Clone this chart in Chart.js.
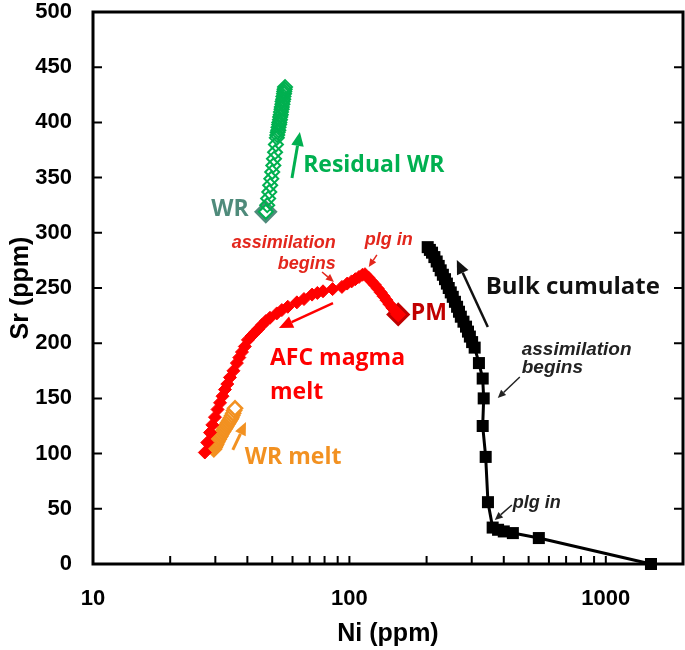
<!DOCTYPE html>
<html>
<head>
<meta charset="utf-8">
<script src="https://cdn.jsdelivr.net/npm/chart.js@4.4.1/dist/chart.umd.min.js"></script>
<style>
  html, body { margin: 0; padding: 0; background: #fff; }
</style>
</head>
<body>
<canvas id="chart" width="685" height="650"></canvas>
<script>
// Axis ticks
const X_TICKS = [10, 100, 1000];
const X_MINOR = [20, 30, 40, 50, 60, 70, 80, 90, 100, 200, 300, 400, 500, 600, 700, 800, 900, 1000];
const Y_TICKS = [0, 50, 100, 150, 200, 250, 300, 350, 400, 450, 500];

// Whole rock start point (WR)
const wrStartNi = [47.2];
const wrStartSr = [319];

// Residual WR (green open diamonds)
const residualNi = [47.2, 47.8, 48.2, 48.7, 49.1, 49.6, 50.0, 50.5, 50.8, 51.3, 51.7, 52.1,
                    52.3, 52.5, 52.8, 52.9, 53.2, 53.3, 53.6, 53.7, 54.0, 54.1, 54.4, 54.5,
                    54.8, 54.9, 55.2, 55.3, 55.6, 55.7, 55.9, 56.1];
const residualSr = [319, 325, 331, 337, 343, 349, 355, 361, 367, 373, 380, 386,
                    388.5, 391, 393, 395.5, 398, 400, 402.5, 405, 407, 409.5, 412, 414,
                    416.5, 419, 421, 423.5, 426, 428, 430, 432];

// Parent magma (PM)
const pmNi = [155];
const pmSr = [226];

// AFC magma melt (red diamonds), from PM through "plg in" down the curve
const afcNi = [155, 151, 147, 143, 139.5, 136, 132.5, 129, 125.5, 122, 118.5, 115,
               112.5, 109, 105.5, 102, 98, 93.5, 86, 78.9, 75, 71.5, 66.5, 62.4,
               57.5, 54.5, 52.1, 49, 47.2, 45.6, 44.2, 42.9, 41.5, 40.2, 39.1, 38.1,
               37.2, 36.4, 35.3, 34.2, 33.4, 32.7, 32, 31.3, 30.6, 29.9, 29.2, 28.6,
               27.9, 27.3];
const afcSr = [226, 229, 232, 235.5, 239, 242.5, 246, 249.5, 253, 256, 259.5, 262.5,
               262, 260, 258, 256, 254, 251, 249, 247, 245.5, 244, 240, 237,
               233, 230, 227, 223, 220, 216.5, 213, 210, 206.5, 203, 197, 192,
               187, 182, 175, 169, 163, 158, 152, 146, 140, 133, 126, 119,
               110, 101];

// WR melt (orange open diamonds)
const meltNi = [29.6, 29.8, 30.0, 30.2, 30.4, 30.6, 30.9, 31.1, 31.4, 31.6, 31.9, 32.2,
                32.5, 32.8, 33.1, 33.4, 33.7, 34.0, 34.3, 34.6, 34.9, 35.2, 35.5, 35.8];
const meltSr = [104, 105.5, 107, 108.5, 110, 111.5, 113, 114.5, 116, 117.5, 119, 120.5,
                122, 123.5, 125, 126.5, 128, 129.5, 131, 132.5, 134.5, 136.5, 139, 141];

// Bulk cumulate (black squares)
const bulkNi = [202, 206, 210, 214.5, 219, 223, 227, 231.5, 236, 240, 244, 248.5,
                253, 258, 263, 267.5, 272, 278.5, 285, 290, 295, 301, 308, 320,
                331, 334, 331, 340, 347, 362, 380, 400, 434, 548, 1500];
const bulkSr = [287, 284.5, 282, 278, 274, 270, 266, 262, 258, 254, 250, 246,
                242, 237.5, 233, 228.5, 224, 219.5, 215, 210.5, 206, 201, 196, 182,
                168, 150, 125, 97, 56, 33, 31, 29.5, 28, 23.5, 0];

const pts = (xs, ys) => xs.map((v, i) => ({ x: v, y: ys[i] }));

const GREEN = '#00b050';
const TEAL = '#4f8b7b';
const RED = '#ff0000';
const DARKRED = '#c00000';
const ORANGE = '#f29121';
const TXTRED = '#e3261c';

const BIG = 'bold 23px "Open Sans", sans-serif';
const BIG2 = 'bold 24px "Open Sans", sans-serif';
const SMALL = 'italic bold 18px "Liberation Sans", Arial, sans-serif';
const SMALL2 = 'italic bold 19px "Liberation Sans", Arial, sans-serif';

// Text labels, placed in data coordinates (Ni, Sr)
const notes = [
    { t: 'Residual WR', ni: 66, sr: 361, c: GREEN, f: BIG, a: 'left' },
    { t: 'WR', ni: 34.2, sr: 321, c: TEAL, f: BIG, a: 'center' },
    { t: 'assimilation', ni: 88.5, sr: 291, c: TXTRED, f: SMALL, a: 'right' },
    { t: 'begins', ni: 88.5, sr: 272, c: TXTRED, f: SMALL, a: 'right' },
    { t: 'plg in', ni: 114.8, sr: 293.5, c: TXTRED, f: SMALL, a: 'left' },
    { t: 'PM', ni: 204, sr: 227, c: DARKRED, f: BIG, a: 'center' },
    { t: 'AFC magma', ni: 49, sr: 186.6, c: RED, f: BIG, a: 'left' },
    { t: 'melt', ni: 49, sr: 155.8, c: RED, f: BIG, a: 'left' },
    { t: 'WR melt', ni: 39.1, sr: 96.9, c: ORANGE, f: BIG, a: 'left' },
    { t: 'Bulk cumulate', ni: 340, sr: 250.9, c: '#111', f: BIG2, a: 'left' },
    { t: 'assimilation', ni: 470, sr: 193.8, c: '#222', f: SMALL2, a: 'left' },
    { t: 'begins', ni: 470, sr: 177.5, c: '#222', f: SMALL2, a: 'left' },
    { t: 'plg in', ni: 434, sr: 55.3, c: '#222', f: SMALL, a: 'left' }
];

// Arrows: from -> to (head), in data coordinates
const arrows = [
    { from: [59.7, 349.6], to: [64.1, 391.3], c: GREEN, w: 3, h: 14 },
    { from: [78.2, 264.5], to: [87.0, 255.4], c: TXTRED, w: 1.5, h: 8 },
    { from: [128, 280], to: [119, 269], c: TXTRED, w: 1.5, h: 8 },
    { from: [86.3, 236.4], to: [53.1, 213.8], c: RED, w: 2.5, h: 14 },
    { from: [35.1, 103.3], to: [39.5, 128.6], c: ORANGE, w: 3, h: 13 },
    { from: [346.6, 214.7], to: [262.4, 275.4], c: '#111', w: 2.5, h: 14 },
    { from: [462, 169.4], to: [379, 150.4], c: '#222', w: 1.5, h: 8 },
    { from: [430, 53.4], to: [369, 39.9], c: '#222', w: 1.5, h: 8 }
];

const framePlugin = {
    id: 'frame',
    beforeDatasetsDraw(chart) {
        const { ctx, chartArea: a, scales: { x, y } } = chart;
        ctx.save();
        ctx.strokeStyle = '#000';
        ctx.lineWidth = 2;
        ctx.beginPath();
        Y_TICKS.forEach(v => {
            const py = y.getPixelForValue(v);
            ctx.moveTo(a.left, py); ctx.lineTo(a.left + 9, py);
            ctx.moveTo(a.right, py); ctx.lineTo(a.right - 9, py);
        });
        X_MINOR.forEach(v => {
            const px = x.getPixelForValue(v);
            ctx.moveTo(px, a.bottom); ctx.lineTo(px, a.bottom - 8);
        });
        ctx.stroke();
        ctx.lineWidth = 3;
        ctx.strokeRect(a.left, a.top, a.right - a.left, a.bottom - a.top);
        ctx.restore();
    }
};

const notesPlugin = {
    id: 'notes',
    afterDatasetsDraw(chart) {
        const { ctx, scales: { x, y } } = chart;
        ctx.save();
        arrows.forEach(ar => {
            const x0 = x.getPixelForValue(ar.from[0]), y0 = y.getPixelForValue(ar.from[1]);
            const x1 = x.getPixelForValue(ar.to[0]), y1 = y.getPixelForValue(ar.to[1]);
            const ang = Math.atan2(y1 - y0, x1 - x0);
            const bx = x1 - ar.h * Math.cos(ang), by = y1 - ar.h * Math.sin(ang);
            ctx.strokeStyle = ar.c;
            ctx.fillStyle = ar.c;
            ctx.lineWidth = ar.w;
            ctx.beginPath();
            ctx.moveTo(x0, y0);
            ctx.lineTo(bx, by);
            ctx.stroke();
            const hw = ar.h * 0.45;
            ctx.beginPath();
            ctx.moveTo(x1, y1);
            ctx.lineTo(bx + hw * Math.sin(ang), by - hw * Math.cos(ang));
            ctx.lineTo(bx - hw * Math.sin(ang), by + hw * Math.cos(ang));
            ctx.closePath();
            ctx.fill();
        });
        ctx.textBaseline = 'middle';
        notes.forEach(n => {
            ctx.font = n.f;
            ctx.fillStyle = n.c;
            ctx.textAlign = n.a;
            ctx.fillText(n.t, x.getPixelForValue(n.ni), y.getPixelForValue(n.sr));
        });
        ctx.restore();
    }
};

const tickFont = { family: '"Liberation Sans", Arial, sans-serif', size: 22, weight: 'bold' };
const titleFont = { family: '"Liberation Sans", Arial, sans-serif', size: 25, weight: 'bold' };

new Chart(document.getElementById('chart'), {
    type: 'scatter',
    data: {
        datasets: [
            {
                data: pts(bulkNi, bulkSr),
                showLine: true,
                borderColor: '#000',
                borderWidth: 3,
                backgroundColor: '#000',
                pointStyle: 'rect',
                pointRadius: 8.5,
                pointBorderWidth: 0,
                clip: false
            },
            {
                data: pts(afcNi, afcSr),
                showLine: true,
                borderColor: RED,
                borderWidth: 1.5,
                backgroundColor: RED,
                pointBackgroundColor: RED,
                pointBorderColor: RED,
                pointStyle: 'rectRot',
                pointRadius: 6.5,
                pointBorderWidth: 1
            },
            {
                data: pts(pmNi, pmSr),
                pointStyle: 'rectRot',
                pointRadius: 10,
                pointBackgroundColor: RED,
                pointBorderColor: DARKRED,
                pointBorderWidth: 3
            },
            {
                data: pts(meltNi, meltSr),
                pointStyle: 'rectRot',
                pointRadius: 7,
                pointBackgroundColor: '#fff',
                pointBorderColor: ORANGE,
                pointBorderWidth: 2.5
            },
            {
                data: pts(residualNi, residualSr),
                pointStyle: 'rectRot',
                pointRadius: 7,
                pointBackgroundColor: 'rgba(255,255,255,0)',
                pointBorderColor: GREEN,
                pointBorderWidth: 2
            },
            {
                data: pts(wrStartNi, wrStartSr),
                pointStyle: 'rectRot',
                pointRadius: 9,
                pointBackgroundColor: '#fff',
                pointBorderColor: TEAL,
                pointBorderWidth: 4
            }
        ]
    },
    options: {
        responsive: false,
        animation: false,
        layout: { autoPadding: false, padding: { top: 12, right: 2, left: 0, bottom: 0 } },
        plugins: {
            legend: { display: false },
            tooltip: { enabled: false }
        },
        scales: {
            x: {
                type: 'logarithmic',
                min: 10,
                max: 2000,
                afterBuildTicks: s => { s.ticks = X_TICKS.map(v => ({ value: v })); },
                afterFit: s => { s.height = 86; s.paddingLeft = 0; s.paddingRight = 0; },
                grid: { display: false },
                border: { display: false },
                ticks: {
                    autoSkip: false,
                    maxRotation: 0,
                    color: '#000',
                    font: tickFont,
                    padding: 14,
                    callback: v => String(v)
                },
                title: {
                    display: true,
                    text: 'Ni (ppm)',
                    color: '#000',
                    font: titleFont,
                    padding: { top: 0, bottom: 1 }
                }
            },
            y: {
                min: 0,
                max: 500,
                afterBuildTicks: s => { s.ticks = Y_TICKS.map(v => ({ value: v })); },
                afterFit: s => { s.width = 93; s.paddingTop = 0; s.paddingBottom = 0; },
                grid: { display: false },
                border: { display: false },
                ticks: {
                    color: '#000',
                    font: tickFont,
                    padding: 13
                },
                title: {
                    display: true,
                    text: 'Sr (ppm)',
                    color: '#000',
                    font: titleFont,
                    padding: { top: 6, bottom: 0 }
                }
            }
        }
    },
    plugins: [framePlugin, notesPlugin]
});
</script>
</body>
</html>
